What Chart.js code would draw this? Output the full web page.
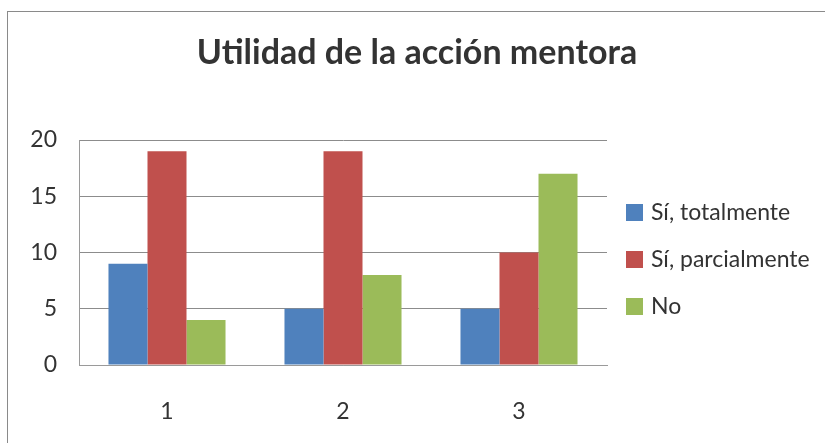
<!DOCTYPE html>
<html>
<head>
<meta charset="utf-8">
<script src="https://cdn.jsdelivr.net/npm/chart.js@4"></script>
<style>
  html, body { margin: 0; padding: 0; background: #fff; overflow: hidden; }
  #wrap { position: relative; width: 825px; height: 443px; }
  #frame { position: absolute; left: 7px; top: 11px; width: 900px; height: 500px; border: 1px solid #8a8a8a; box-sizing: border-box; }
  canvas { position: absolute; left: 0; top: 0; }
</style>
</head>
<body>
<div id="wrap">
  <div id="frame"></div>
  <canvas id="bar-chart" width="825" height="443"></canvas>
</div>
<script>
const categories = ["1", "2", "3"];
const totalmente = [9, 5, 5];
const parcialmente = [19, 19, 10];
const no = [4, 8, 17];
const seriesNames = ["Sí, totalmente", "Sí, parcialmente", "No"];
const colors = ["#4f81bd", "#c0504d", "#9bbb59"];
const chartTitle = "Utilidad de la acción mentora";

const FONT = "Lato, 'Open Sans', sans-serif";

const extras = {
  id: 'extras',
  afterDraw(chart) {
    const ctx = chart.ctx;
    ctx.save();
    // title
    ctx.fillStyle = '#333333';
    ctx.font = 'bold 34px ' + FONT;
    ctx.textAlign = 'center';
    ctx.textBaseline = 'alphabetic';
    ctx.fillText(chartTitle, 417, 64);
    // legend
    ctx.font = '23px ' + FONT;
    ctx.textAlign = 'left';
    ctx.textBaseline = 'middle';
    chart.data.datasets.forEach((ds, i) => {
      const y = 212 + i * 47;
      ctx.fillStyle = ds.backgroundColor;
      ctx.fillRect(626, y - 8, 17, 17);
      ctx.fillStyle = '#333333';
      ctx.fillText(ds.label, 651, y + 1);
    });
    ctx.restore();
  }
};

new Chart(document.getElementById("bar-chart"), {
  type: 'bar',
  data: {
    labels: categories,
    datasets: [
      { label: seriesNames[0], backgroundColor: colors[0], data: totalmente },
      { label: seriesNames[1], backgroundColor: colors[1], data: parcialmente },
      { label: seriesNames[2], backgroundColor: colors[2], data: no }
    ]
  },
  options: {
    responsive: false,
    animation: false,
    layout: { padding: { left: 0, right: 218, top: 140, bottom: 0 } },
    datasets: { bar: { barPercentage: 1, categoryPercentage: 0.665 } },
    plugins: {
      legend: { display: false },
      title: { display: false },
      tooltip: { enabled: false }
    },
    scales: {
      x: {
        grid: { display: false, drawTicks: false },
        border: { color: '#9a9a9a', width: 1 },
        ticks: { padding: 33, color: '#333333', font: { family: FONT, size: 23 } },
        afterFit(s) { s.height = 78; }
      },
      y: {
        min: 0, max: 20,
        ticks: { stepSize: 5, padding: 22, color: '#333333', font: { family: FONT, size: 23 } },
        grid: { color: '#8c8c8c', drawTicks: false },
        border: { color: '#9a9a9a', width: 1 },
        afterFit(s) { s.width = 79; }
      }
    }
  },
  plugins: [extras]
});
</script>
</body>
</html>
